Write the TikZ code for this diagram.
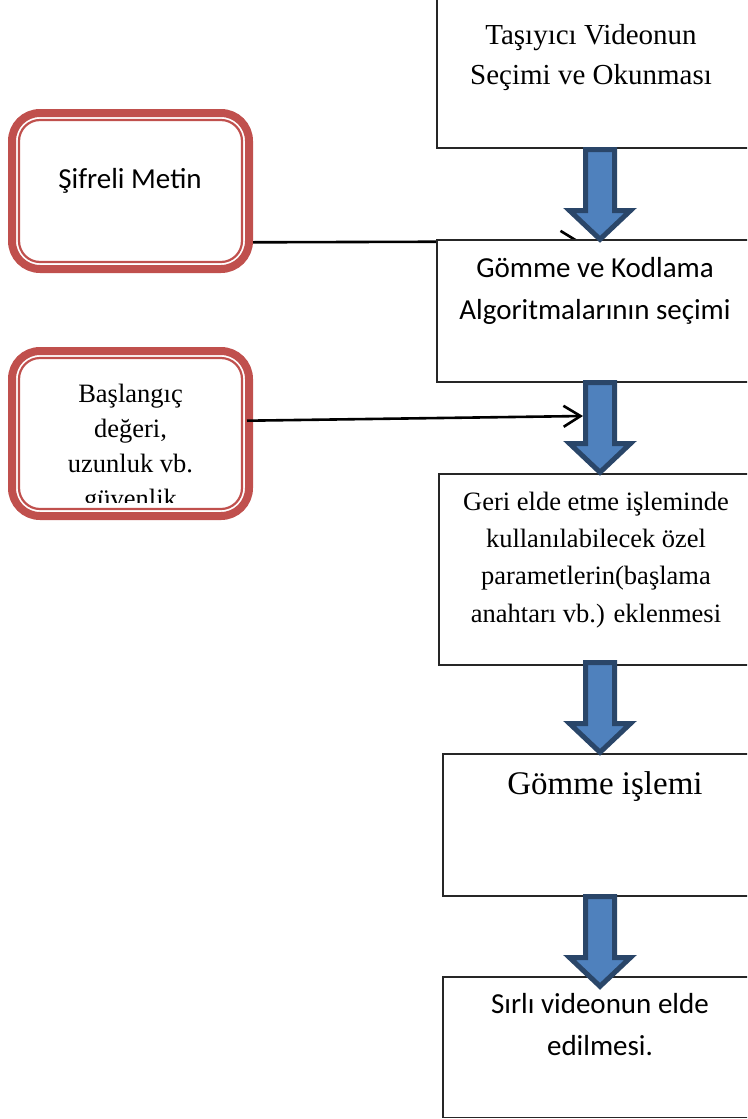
\documentclass[tikz,border=0pt]{standalone}
\usepackage{fontspec}
\setmainfont{Liberation Serif}
\newfontfamily\calibri{Carlito}
\usetikzlibrary{arrows.meta,calc}
\definecolor{wred}{HTML}{C0504D}
\definecolor{wblue}{HTML}{4F81BD}
\definecolor{wnavy}{HTML}{2A4669}
\tikzset{
  blockarrow/.pic={\path[draw=wnavy, fill=wblue, line width=5pt, line join=miter]
    (-14.5,2.5) -- (14.5,2.5) -- (14.5,63.5) -- (30.5,63.5) -- (0,92.3) -- (-30.5,63.5) -- (-14.5,63.5) -- cycle;}
}
\begin{document}
\begin{tikzpicture}[x=1pt,y=-1pt,
  flowbox/.style={draw=black!85, line width=1.3pt, fill=white, rectangle, inner sep=0pt, outer sep=0pt, anchor=north west},
  redbox/.style={draw=wred, line width=8pt, fill=white, rounded corners=28pt, rectangle, inner sep=0pt, outer sep=4pt},
  redinner/.style={draw=wred, line width=2.2pt, rounded corners=21pt},
  conn/.style={draw=black, line width=2.6pt, -{Straight Barb[length=17pt,width=21pt]}},
  serifA/.style={font=\fontsize{29}{40}\selectfont, align=center, inner sep=0pt, anchor=north},
  serifB/.style={font=\fontsize{26.5}{37.3}\selectfont, align=center, inner sep=0pt, anchor=north},
  serifC/.style={font=\fontsize{26.5}{35}\selectfont, align=center, inner sep=0pt, anchor=north},
  serifD/.style={font=\fontsize{33}{40}\selectfont, inner sep=0pt, anchor=base},
  calA/.style={font=\calibri\fontsize{29}{42}\selectfont, align=center, inner sep=0pt, anchor=north},
  calB/.style={font=\calibri\fontsize{29}{42}\selectfont, inner sep=0pt, anchor=base}
]
\useasboundingbox (0,0) rectangle (747,1119);
\clip (0,0) rectangle (747,1119);

% red rounded boxes
\node[redbox, minimum width=237pt, minimum height=156pt] (ra) at (130.5,191) {};
\draw[redinner] ([shift={(11,11)}]ra.north west) rectangle ([shift={(-11,-11)}]ra.south east);
\node[calB] (rat) at (130,188) {Şifreli Metin};

\node[redbox, minimum width=237pt, minimum height=165pt] (rb) at (130.5,433.5) {};
\draw[redinner] ([shift={(11,11)}]rb.north west) rectangle ([shift={(-11,-11)}]rb.south east);
\begin{scope}
  \clip (20,359) rectangle (241,502);
  \node[serifC] (rbt) at (130.5,377.5) {\strut Başlangıç\\\strut değeri,\\\strut uzunluk vb.\\\strut güvenlik};
\end{scope}

% connector under box 2
\coordinate (tip1) at (580,241.3);
\draw[conn] ([yshift=-51.3pt]ra.east) -- (tip1);

% flow boxes
\node[flowbox, minimum width=326pt, minimum height=151pt] (b1) at (437,-3) {};
\node[serifA] (t1) at (591,16) {\strut Taşıyıcı Videonun\\\strut Seçimi ve Okunması};

\node[flowbox, minimum width=326pt, minimum height=142pt] (b2) at (437,240) {};
\node[calA] (t2) at (595,247.6) {\strut Gömme ve Kodlama\\\strut Algoritmalarının seçimi};

\node[flowbox, minimum width=322pt, minimum height=191pt] (b3) at (439,474) {};
\node[serifB] (t3) at (596,483.9) {\strut Geri elde etme işleminde\\\strut kullanılabilecek özel\\\strut parametlerin(başlama\\\strut anahtarı vb.) eklenmesi};

\node[flowbox, minimum width=314pt, minimum height=142pt] (b4) at (443,754) {};
\node[serifD] (t4) at (605,794) {Gömme işlemi};

\node[flowbox, minimum width=314pt, minimum height=140.5pt] (b5) at (443,977) {};
\node[calA] (t5) at (600,983.6) {\strut Sırlı videonun elde\\\strut edilmesi.};

% block arrows
\pic at ([yshift=1pt]b1.south) {blockarrow};
\pic at ([yshift=2pt]b2.south) {blockarrow};
\pic at ([yshift=5pt]b3.south) {blockarrow};
\pic at ([yshift=2pt]b4.south) {blockarrow};

% connector to second arrow
\coordinate (tip2) at (583,416);
\draw[conn] ([xshift=-6pt,yshift=12.8pt]rb.east) -- (tip2);
\end{tikzpicture}
\end{document}
